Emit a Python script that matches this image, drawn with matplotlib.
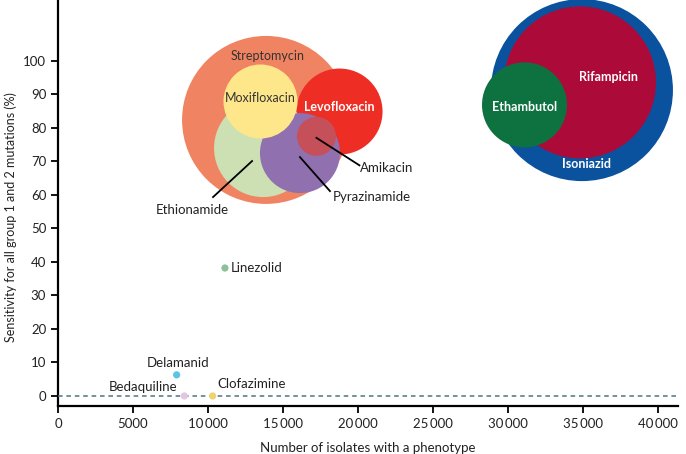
import matplotlib
matplotlib.use("Agg")
import matplotlib.pyplot as plt
import matplotlib.transforms as mtransforms

plt.rcParams['font.family'] = ['Lato', 'DejaVu Sans']

# ---- data ----
big_drugs = ["Isoniazid", "Rifampicin", "Ethambutol", "Streptomycin", "Levofloxacin",
             "Ethionamide", "Pyrazinamide", "Moxifloxacin", "Amikacin"]
big_isolates = [34930, 34800, 31100, 13870, 18770, 13670, 16130, 13500, 17230]
big_sensitivity = [91.3, 93.6, 86.9, 82.4, 84.9, 74.0, 72.5, 87.9, 77.5]

small_drugs = ["Linezolid", "Delamanid", "Bedaquiline", "Clofazimine"]
small_isolates = [11130, 7910, 8420, 10310]
small_sensitivity = [38.2, 6.3, 0.0, 0.0]

x_ticks = [0, 5000, 10000, 15000, 20000, 25000, 30000, 35000, 40000]
x_tick_labels = ["0", "5000", "10\u2009000", "15\u2009000", "20\u2009000", "25\u2009000",
                 "30\u2009000", "35\u2009000", "40\u2009000"]
y_ticks = [0, 10, 20, 30, 40, 50, 60, 70, 80, 90, 100]

# ---- style ----
big_radius_px = [91, 76, 42.5, 84, 43, 49, 40, 37, 19.5]
big_colors = ["#0B529E", "#AC0A39", "#0D7240", "#F08462", "#EE2D24",
              "#CCE0B4", "#9170B0", "#FEE68A", "#C5505A"]
small_colors = ["#8DBF9A", "#5BC3E6", "#E3C6E0", "#EFD36E"]

DPI = 100
fig = plt.figure(figsize=(6.86, 4.54), dpi=DPI)
ax = fig.add_axes([58/686, 48/454, 620/686, 406/454])
ax.set_xlim(0, 41333)
ax.set_ylim(-3.0, 118.2)

def size_from_radius(r):
    d_pt = 2 * r * 72 / DPI
    return d_pt ** 2

for i, name in enumerate(big_drugs):
    ax.scatter([big_isolates[i]], [big_sensitivity[i]], s=size_from_radius(big_radius_px[i]),
               color=big_colors[i], edgecolors='none', zorder=2 + i * 0.1)

for i, name in enumerate(small_drugs):
    ax.scatter([small_isolates[i]], [small_sensitivity[i]], s=size_from_radius(3.6),
               color=small_colors[i], edgecolors='none', zorder=4)

ax.axhline(0, color="#4F7384", lw=1.1, ls=(0, (3, 2.5)), zorder=3)

def pt(px):
    return px * 72 / DPI

fs = 9.5
text_col = "#222222"
# labels inside / near circles (offsets in px from centre)
inner = {
    "Streptomycin": ((2, 64), "#333333", "normal"),
    "Moxifloxacin": ((0, 3.5), "#333333", "normal"),
    "Levofloxacin": ((0, 4.5), "white", "bold"),
    "Rifampicin": ((28, 5), "white", "bold"),
    "Ethambutol": ((0, -2), "white", "bold"),
    "Isoniazid": ((5, -74), "white", "bold"),
}
for i, name in enumerate(big_drugs):
    if name in inner:
        (dx, dy), c, w = inner[name]
        ax.annotate(name, (big_isolates[i], big_sensitivity[i]), xytext=(pt(dx), pt(dy)),
                    textcoords='offset points', ha='center', va='center',
                    color=c, fontsize=fs - 0.5, fontweight=w, zorder=6)

# leader-line labels: (line start offset px, line end offset px, text offset px, ha)
leader = {
    "Amikacin": ((0, -1.5), (43, -29), (44, -31.5), 'left'),
    "Pyrazinamide": ((0, -4), (30, -38), (33, -44), 'left'),
    "Ethionamide": ((-11, -13), (-50, -49), (-71, -62), 'center'),
}
for i, name in enumerate(big_drugs):
    if name in leader:
        (sx, sy), (ex, ey), (tx, ty), ha = leader[name]
        ax.annotate(name, (big_isolates[i], big_sensitivity[i]), xytext=(pt(tx), pt(ty)),
                    textcoords='offset points', ha=ha, va='center', fontsize=fs,
                    color=text_col, zorder=6)
        x0, y0 = ax.transData.transform((big_isolates[i], big_sensitivity[i]))
        inv = ax.transData.inverted()
        p0 = inv.transform((x0 + sx, y0 + sy))
        p1 = inv.transform((x0 + ex, y0 + ey))
        ax.plot([p0[0], p1[0]], [p0[1], p1[1]], color='black', lw=1.3, zorder=5)

small_lab = {
    "Linezolid": ((6, 0), 'left'),
    "Delamanid": ((1, 12), 'center'),
    "Bedaquiline": ((-41, 9), 'center'),
    "Clofazimine": ((39, 12), 'center'),
}
for i, name in enumerate(small_drugs):
    (dx, dy), ha = small_lab[name]
    ax.annotate(name, (small_isolates[i], small_sensitivity[i]), xytext=(pt(dx), pt(dy)),
                textcoords='offset points', ha=ha, va='center', fontsize=fs,
                color=text_col, zorder=6)

ax.set_xticks(x_ticks)
ax.set_xticklabels(x_tick_labels)
ax.set_yticks(y_ticks)
ax.tick_params(axis='both', direction='out', length=5, width=1.3, labelsize=fs, colors='black')
ax.tick_params(axis='both', labelcolor=text_col)
for s in ['top', 'right']:
    ax.spines[s].set_visible(False)
for s in ['left', 'bottom']:
    ax.spines[s].set_linewidth(1.6)

ax.set_xlabel("Number of isolates with a phenotype", fontsize=fs, color=text_col, labelpad=9)
ax.set_ylabel("Sensitivity for all group 1 and 2 mutations (%)", fontsize=9, color=text_col)
ax.yaxis.set_label_coords(-0.066, 0.465)

fig.savefig("out.png", dpi=DPI)
